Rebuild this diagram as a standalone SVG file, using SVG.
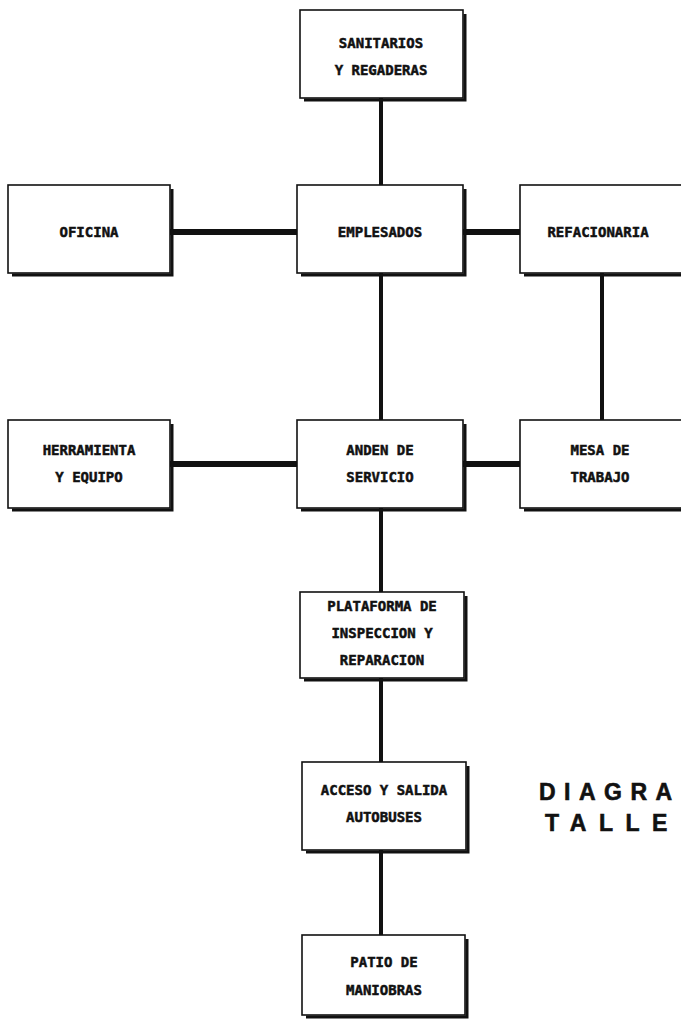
<svg xmlns="http://www.w3.org/2000/svg" width="681" height="1025" viewBox="0 0 681 1025">
  <style>
    .box rect { fill: #ffffff; stroke: #111111; stroke-width: 1.6; }
    .box polyline { fill: none; stroke: #111111; stroke-width: 3; }
    .box text { font-family: "DejaVu Sans Mono", "Liberation Mono", monospace; font-weight: bold; font-size: 14px; fill: #111111; stroke: #111111; stroke-width: 0.5; text-anchor: middle; }
    .h { stroke: #111111; stroke-width: 6; }
    .v { stroke: #111111; stroke-width: 4; }
    .title { font-family: "Liberation Sans", Arial, sans-serif; font-weight: bold; font-size: 23px; fill: #111111; stroke: #111111; stroke-width: 0.6; }
  </style>

  <rect width="681" height="1025" fill="#ffffff"/>

  <!-- connectors -->
  <g id="connectors">
    <line class="v" x1="381" y1="98" x2="381" y2="185"/>
    <line class="h" x1="170" y1="232" x2="297" y2="232"/>
    <line class="h" x1="463" y1="232" x2="520" y2="232"/>
    <line class="v" x1="381" y1="273" x2="381" y2="420"/>
    <line class="v" x1="602" y1="273" x2="602" y2="420"/>
    <line class="h" x1="170" y1="464" x2="297" y2="464"/>
    <line class="h" x1="463" y1="464" x2="520" y2="464"/>
    <line class="v" x1="381" y1="508" x2="381" y2="592"/>
    <line class="v" x1="381" y1="678" x2="381" y2="762"/>
    <line class="v" x1="381" y1="850" x2="381" y2="935"/>
  </g>

  <g id="sanitarios" class="box">
    <rect x="300" y="10" width="163" height="88"/>
    <polyline points="465,14 465,100 304,100"/>
    <text x="381" y="48">SANITARIOS</text>
    <text x="381" y="75">Y REGADERAS</text>
  </g>

  <g id="oficina" class="box">
    <rect x="8" y="185" width="162" height="88"/>
    <polyline points="172,189 172,275 12,275"/>
    <text x="89" y="237">OFICINA</text>
  </g>

  <g id="empleados" class="box">
    <rect x="297" y="185" width="166" height="88"/>
    <polyline points="465,189 465,275 301,275"/>
    <text x="380" y="237">EMPLESADOS</text>
  </g>

  <g id="refacionaria" class="box">
    <rect x="520" y="185" width="164" height="88"/>
    <polyline points="686,189 686,275 524,275"/>
    <text x="598" y="237">REFACIONARIA</text>
  </g>

  <g id="herramienta" class="box">
    <rect x="8" y="420" width="162" height="88"/>
    <polyline points="172,424 172,510 12,510"/>
    <text x="89" y="455">HERRAMIENTA</text>
    <text x="89" y="482">Y EQUIPO</text>
  </g>

  <g id="anden" class="box">
    <rect x="297" y="420" width="166" height="88"/>
    <polyline points="465,424 465,510 301,510"/>
    <text x="380" y="455">ANDEN DE</text>
    <text x="380" y="482">SERVICIO</text>
  </g>

  <g id="mesa" class="box">
    <rect x="520" y="420" width="164" height="88"/>
    <polyline points="686,424 686,510 524,510"/>
    <text x="600" y="455">MESA DE</text>
    <text x="600" y="482">TRABAJO</text>
  </g>

  <g id="plataforma" class="box">
    <rect x="300" y="592" width="164" height="86"/>
    <polyline points="466,596 466,680 304,680"/>
    <text x="382" y="611">PLATAFORMA DE</text>
    <text x="382" y="638">INSPECCION Y</text>
    <text x="382" y="665">REPARACION</text>
  </g>

  <g id="acceso" class="box">
    <rect x="302" y="762" width="164" height="88"/>
    <polyline points="468,766 468,852 306,852"/>
    <text x="384" y="795">ACCESO Y SALIDA</text>
    <text x="384" y="822">AUTOBUSES</text>
  </g>

  <g id="patio" class="box">
    <rect x="302" y="935" width="163" height="80"/>
    <polyline points="467,939 467,1017 306,1017"/>
    <text x="384" y="967">PATIO DE</text>
    <text x="384" y="995">MANIOBRAS</text>
  </g>

  <g id="titulo">
    <text class="title" x="539" y="800" letter-spacing="8.5">DIAGRA</text>
    <text class="title" x="545" y="831" letter-spacing="12.5">TALLE</text>
  </g>
</svg>
